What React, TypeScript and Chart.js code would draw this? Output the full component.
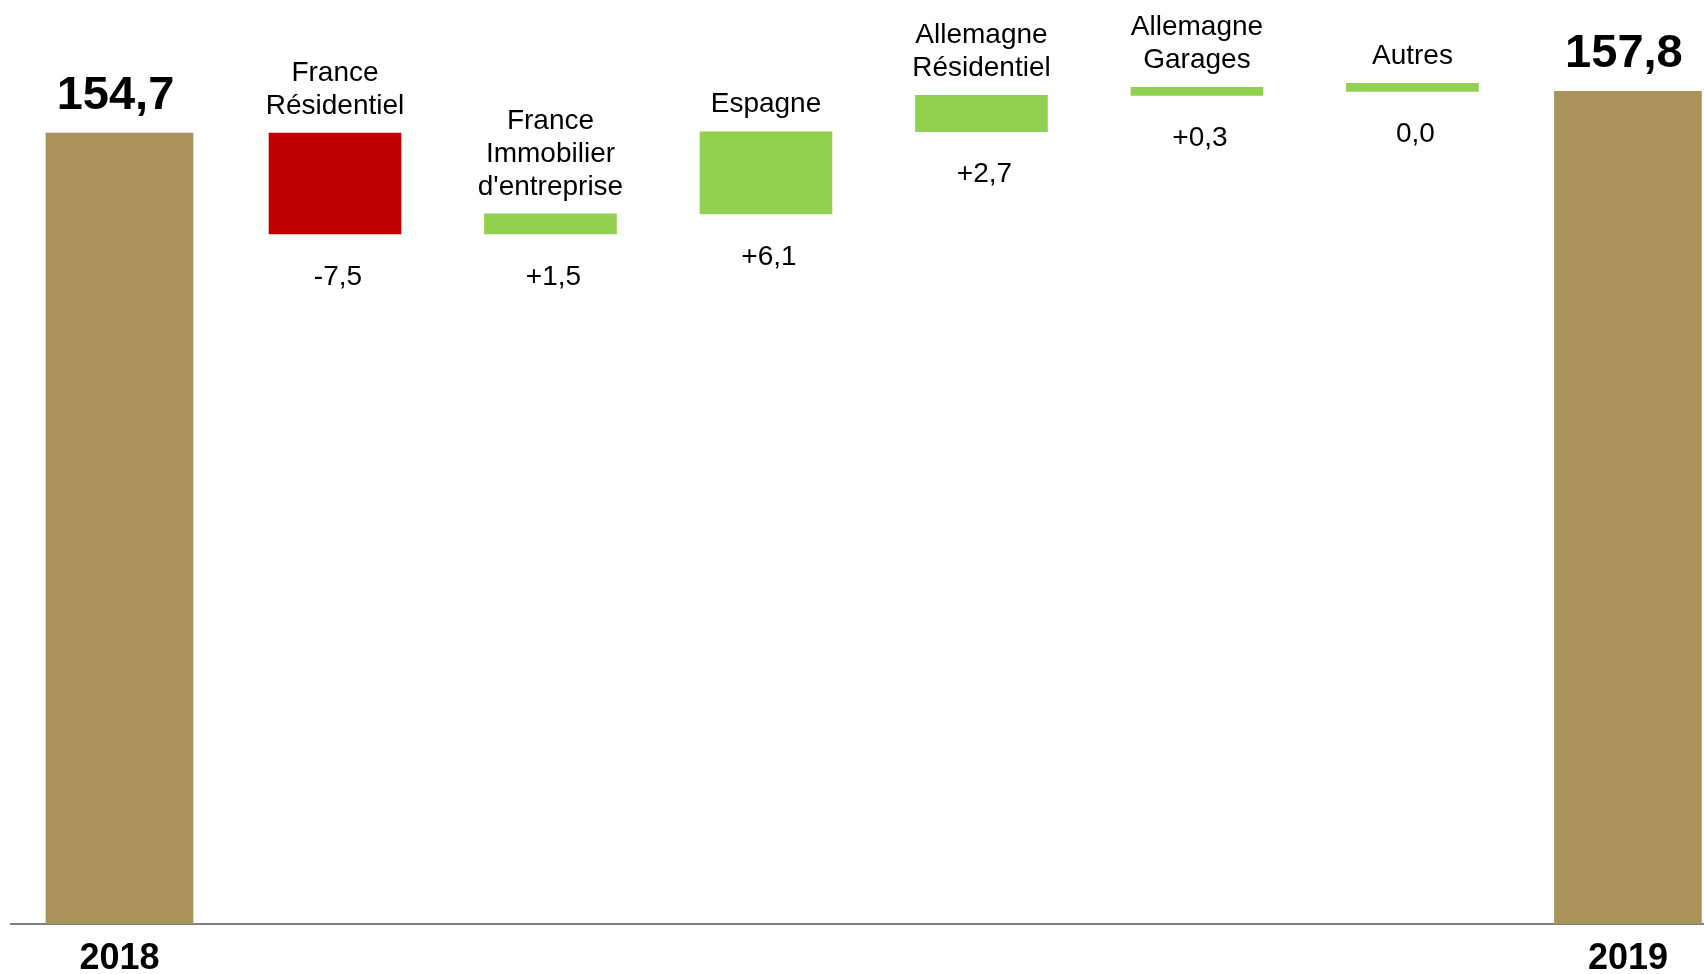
import React, { useEffect, useRef } from "react";
import { Chart, registerables } from "chart.js";

Chart.register(...registerables);

// ---- data ----
const yearLabels = ["2018", "2019"];
const startValue = 154.7;
const endValue = 157.8;
const deltaNames: string[][] = [
  ["France", "Résidentiel"],
  ["France", "Immobilier", "d'entreprise"],
  ["Espagne"],
  ["Allemagne", "Résidentiel"],
  ["Allemagne", "Garages"],
  ["Autres"],
];
const deltaValues = [-7.5, 1.5, 6.1, 2.7, 0.3, 0.0];

// ---- style ----
const GOLD = "#AA935A";
const RED = "#C00000";
const GREEN = "#92D050";
const FONT = "'Liberation Sans', Arial, Helvetica, sans-serif";

const fmtNum = (v: number) => Math.abs(v).toFixed(1).replace(".", ",");
const fmtDelta = (v: number) =>
  v > 0 ? "+" + fmtNum(v) : v < 0 ? "-" + fmtNum(v) : fmtNum(v);

export default function App() {
  const ref = useRef<HTMLCanvasElement | null>(null);

  useEffect(() => {
    if (!ref.current) return;

    // build floating ranges from cumulative deltas
    let running = startValue;
    const floating = deltaValues.map((d, i) => {
      const from = running;
      running = +(running + d).toFixed(2);
      return { x: i + 1, y: [from, running] as [number, number] };
    });
    const lastIndex = deltaValues.length + 1;
    const totals = [
      { x: 0, y: startValue },
      { x: lastIndex, y: endValue },
    ];

    const labelPlugin = {
      id: "wfLabels",
      afterDatasetsDraw(chart: any) {
        const ctx = chart.ctx as CanvasRenderingContext2D;
        ctx.save();
        ctx.fillStyle = "#000";
        ctx.textAlign = "center";
        ctx.textBaseline = "middle";

        // totals
        const tMeta = chart.getDatasetMeta(0);
        ctx.font = `bold 47px ${FONT}`;
        tMeta.data.forEach((el: any, i: number) => {
          const top = Math.min(el.y, el.base);
          const v = i === 0 ? startValue : endValue;
          ctx.fillText(fmtNum(v), el.x - 4, top - 37);
        });

        // deltas
        const dMeta = chart.getDatasetMeta(1);
        ctx.font = `28px ${FONT}`;
        dMeta.data.forEach((el: any, i: number) => {
          const top = Math.min(el.y, el.base);
          const bottom = Math.max(el.y, el.base);
          const lines = deltaNames[i];
          const lh = 33;
          lines.forEach((ln, j) => {
            const y = top - 27 - (lines.length - 1 - j) * lh;
            ctx.fillText(ln, el.x, y);
          });
          ctx.fillText(fmtDelta(deltaValues[i]), el.x + 3, bottom + 43);
        });
        ctx.restore();
      },
    };

    const chart = new Chart(ref.current, {
      type: "bar",
      data: {
        datasets: [
          {
            data: totals as any,
            backgroundColor: GOLD,
            barThickness: 147,
            grouped: false,
          } as any,
          {
            data: floating as any,
            backgroundColor: deltaValues.map((d) => (d < 0 ? RED : GREEN)),
            barThickness: 132,
            minBarLength: 8,
            grouped: false,
          } as any,
        ],
      },
      options: {
        animation: false,
        responsive: true,
        maintainAspectRatio: false,
        layout: { padding: { left: 11, right: 0, top: 0, bottom: 0 } },
        plugins: {
          legend: { display: false },
          tooltip: { enabled: false },
        },
        scales: {
          x: {
            type: "linear",
            offset: false,
            min: -0.5035,
            max: 7.353,
            grid: { display: false, drawTicks: false },
            border: { display: true, color: "#808080", width: 2 },
            afterFit: (scale: any) => {
              scale.height = 50;
            },
            ticks: {
              stepSize: 1,
              includeBounds: false,
              autoSkip: false,
              maxRotation: 0,
              padding: 17,
              color: "#000",
              font: { family: FONT, size: 36, weight: "bold", lineHeight: 1 },
              callback: (value: any) => {
                if (value === 0) return yearLabels[0];
                if (value === lastIndex) return yearLabels[1];
                return "";
              },
            },
          } as any,
          y: {
            display: false,
            min: 95.92,
            max: 164.59,
          },
        },
      },
      plugins: [labelPlugin],
    });

    return () => chart.destroy();
  }, []);

  return (
    <div
      style={{
        position: "fixed",
        left: 0,
        top: 0,
        width: 1704,
        height: 974,
        background: "#fff",
      }}
    >
      <canvas ref={ref} />
    </div>
  );
}
